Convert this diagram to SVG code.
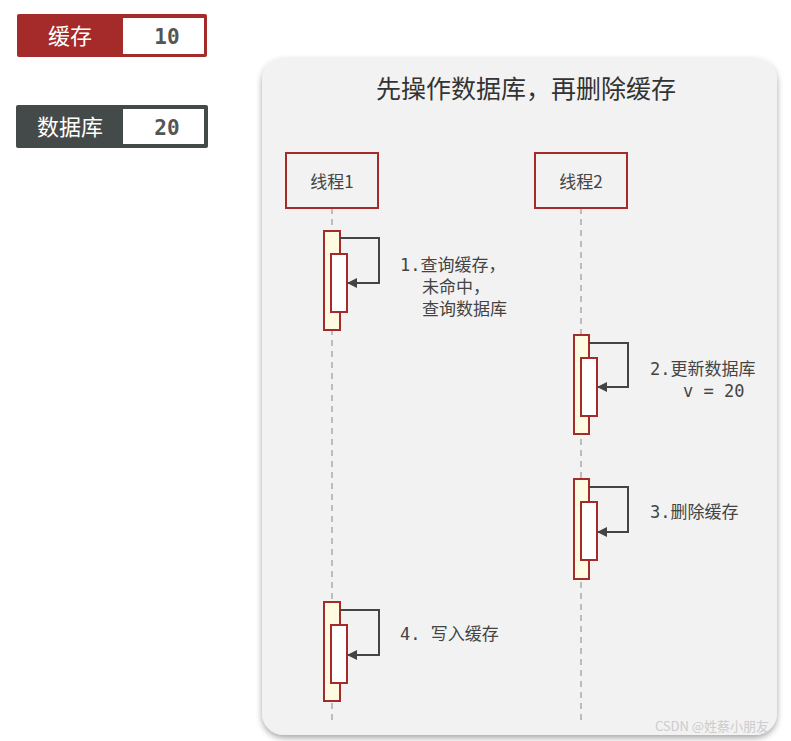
<svg xmlns="http://www.w3.org/2000/svg" width="791" height="741" viewBox="0 0 791 741">
<defs>
<style>
.cn{font-family:"Noto Sans CJK SC",sans-serif}
.mono{font-family:"DejaVu Sans Mono","Noto Sans CJK SC",monospace;font-size:17px;fill:#444}
.act{fill:#fffbe0;stroke:#a52a2a;stroke-width:2}
.inn{fill:#fff;stroke:#a52a2a;stroke-width:2}
.loop{fill:none;stroke:#444;stroke-width:2}
.life{stroke:#aaa;stroke-width:1.5;stroke-dasharray:6,5}
.th{fill:none;stroke:#a52a2a;stroke-width:2}
</style>
<marker id="ah" markerWidth="10" markerHeight="10" refX="9" refY="5" orient="auto" markerUnits="userSpaceOnUse"><path d="M0,0 L10,5 L0,10 z" fill="#444"/></marker>
<filter id="sh" x="-5%" y="-5%" width="110%" height="110%"><feDropShadow dx="0" dy="3" stdDeviation="3" flood-color="#000" flood-opacity="0.35"/></filter>
</defs>
<rect width="791" height="741" fill="#fff"/>
<g id="cache">
<rect x="17" y="14" width="190" height="43" fill="#a52a2a" rx="2"/>
<rect x="123" y="18" width="81" height="36" fill="#fff"/>
<text x="70" y="44" class="cn" font-size="22" fill="#fff" text-anchor="middle">缓存</text>
<text x="167" y="44" font-family="DejaVu Sans Mono,monospace" font-weight="bold" font-size="21" fill="#555" text-anchor="middle">10</text>
</g>
<g id="db">
<rect x="16" y="105" width="192" height="43" fill="#444a4a" rx="2"/>
<rect x="123" y="109" width="81" height="35" fill="#fff"/>
<text x="70" y="135" class="cn" font-size="22" fill="#fff" text-anchor="middle">数据库</text>
<text x="167" y="135" font-family="DejaVu Sans Mono,monospace" font-weight="bold" font-size="21" fill="#555" text-anchor="middle">20</text>
</g>
<g id="panel">
<rect x="262" y="58" width="515" height="677" rx="22" fill="#f2f2f2" filter="url(#sh)"/>
<text x="526" y="98" class="cn" font-size="25" fill="#333" text-anchor="middle">先操作数据库，再删除缓存</text>
<text x="712" y="731" class="cn" font-size="13" fill="#ccc" text-anchor="middle">CSDN @姓蔡小朋友</text>
</g>
<g id="connectors">
<line class="life" x1="332" y1="208" x2="332" y2="720"/>
<line class="life" x1="581" y1="208" x2="581" y2="720"/>
</g>
<g id="thread1"><rect class="th" x="286" y="153" width="92" height="55"/><text x="332" y="188" class="cn" font-size="17" fill="#444" text-anchor="middle">线程1</text></g>
<g id="thread2"><rect class="th" x="535" y="153" width="92" height="55"/><text x="581" y="188" class="cn" font-size="17" fill="#444" text-anchor="middle">线程2</text></g>
<g id="step1">
<rect class="act" x="324" y="231" width="16" height="99"/><rect class="inn" x="331" y="254" width="16" height="58"/>
<path class="loop" d="M340,238 H379 V283 H348" marker-end="url(#ah)"/>
<text class="mono" x="400" y="271">1.查询缓存，</text><text class="mono" x="422" y="293">未命中，</text><text class="mono" x="422" y="315">查询数据库</text>
</g>
<g id="step2">
<rect class="act" x="574" y="335" width="15" height="99"/><rect class="inn" x="581" y="358" width="16" height="58"/>
<path class="loop" d="M589,343 H628 V387 H598" marker-end="url(#ah)"/>
<text class="mono" x="650" y="375">2.更新数据库</text><text class="mono" x="683" y="397">v = 20</text>
</g>
<g id="step3">
<rect class="act" x="574" y="479" width="15" height="100"/><rect class="inn" x="581" y="502" width="16" height="58"/>
<path class="loop" d="M589,487 H628 V532 H598" marker-end="url(#ah)"/>
<text class="mono" x="650" y="518">3.删除缓存</text>
</g>
<g id="step4">
<rect class="act" x="324" y="602" width="16" height="99"/><rect class="inn" x="331" y="625" width="16" height="58"/>
<path class="loop" d="M340,610 H379 V655 H348" marker-end="url(#ah)"/>
<text class="mono" x="400" y="640">4. 写入缓存</text>
</g>
</svg>
